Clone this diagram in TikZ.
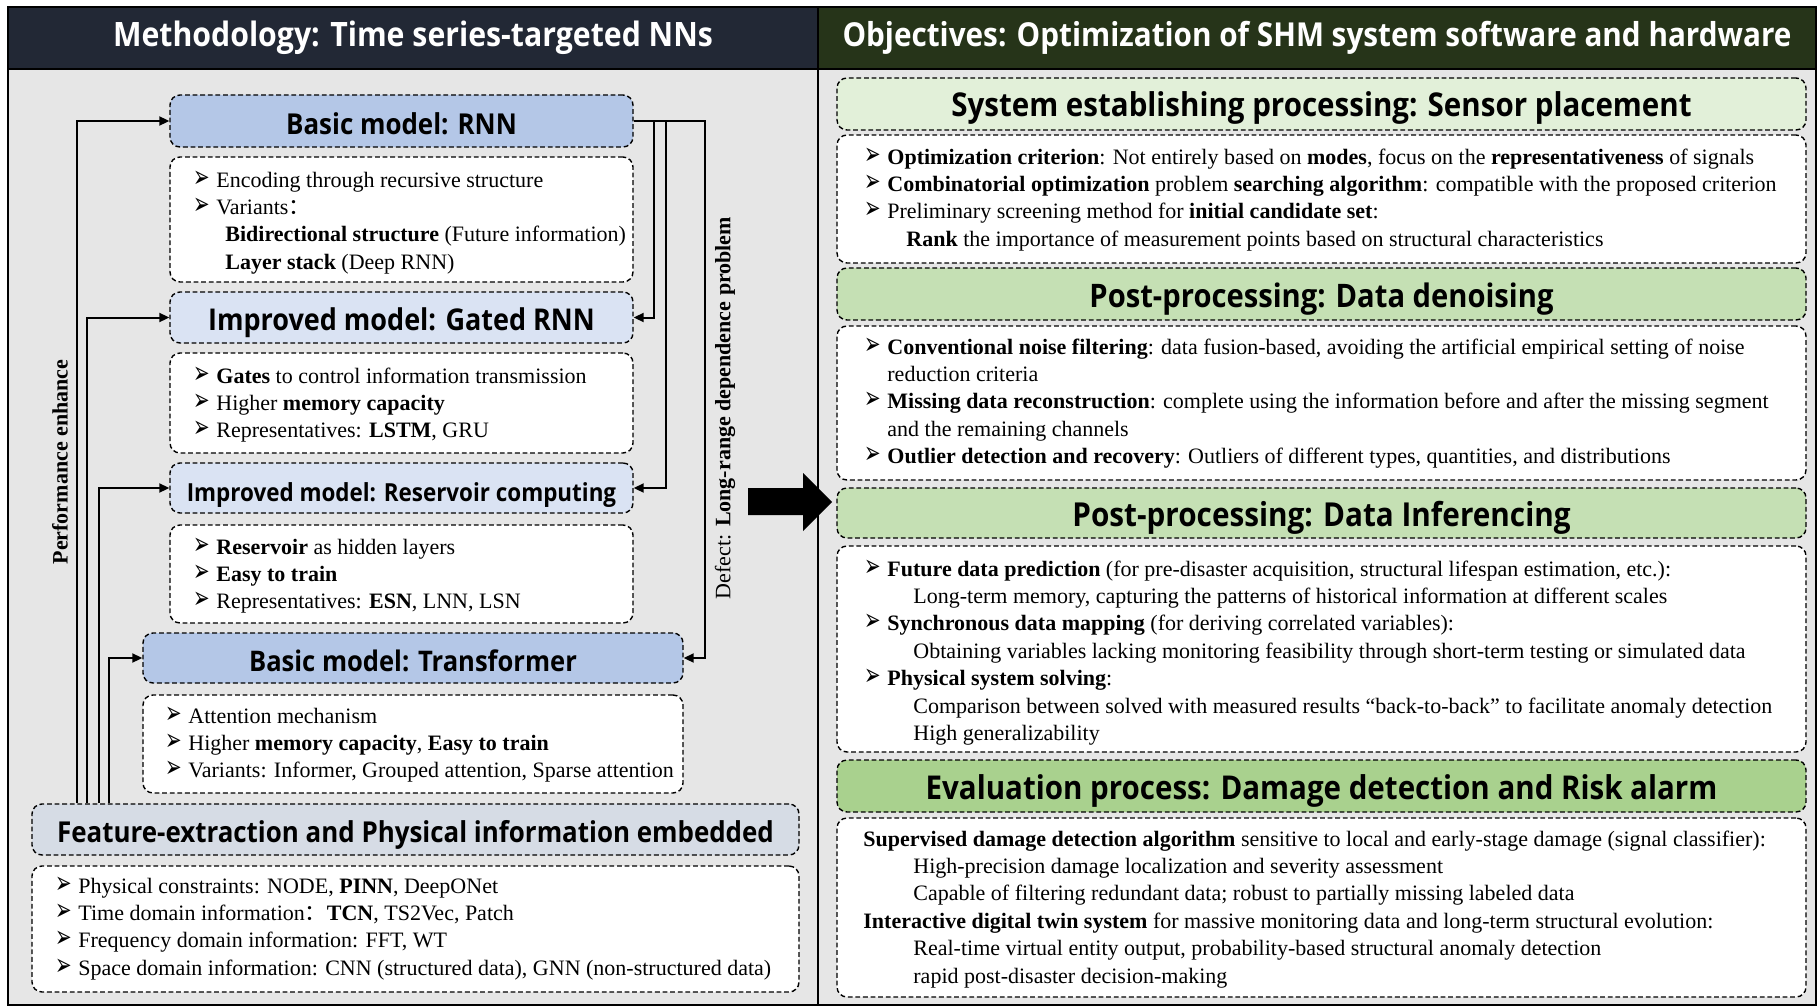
\documentclass[tikz,border=0pt]{standalone}
\usepackage{fontspec}
\usepackage{graphicx}
\setmainfont{Liberation Serif}
\newfontfamily\hfont{Open Sans}[FakeStretch=0.9]
\newfontfamily\dejavu{DejaVu Sans}
\newfontfamily\cjk{Noto Sans CJK SC}
\usetikzlibrary{arrows.meta}

\definecolor{hdrLc}{HTML}{222835}
\definecolor{hdrRc}{HTML}{263419}
\definecolor{panelc}{HTML}{E6E6E6}
\definecolor{blueA}{HTML}{B4C7E7}
\definecolor{blueB}{HTML}{DAE3F3}
\definecolor{blueC}{HTML}{D6DCE5}
\definecolor{greenA}{HTML}{E2F0D9}
\definecolor{greenB}{HTML}{C5E0B4}
\definecolor{greenC}{HTML}{A9D18E}

% box from corner (x1,y1) to (x2,y2), in pixel units
\newcommand\mkbox[7]{%
  \pgfmathsetmacro\bxcx{(#3+#5)/2}%
  \pgfmathsetmacro\bxcy{(#4+#6)/2}%
  \pgfmathsetmacro\bxw{(#5-#3)*0.5}%
  \pgfmathsetmacro\bxh{(#6-#4)*0.5}%
  \node[#1, minimum width=\bxw pt, minimum height=\bxh pt] (#2) at (\bxcx,\bxcy) {#7};}

% bullet and text blocks
\newcommand\itm{\leavevmode\llap{\makebox[11.5pt][l]{\scalebox{0.9}[1.4]{\dejavu\fontsize{11}{11}\selectfont ➢}}}}
\newcommand\tblock[1]{\parbox[t]{470pt}{\raggedright\fontsize{11}{13.7}\selectfont #1}}
\newcommand\fcolon{{\cjk ：}}

\tikzset{
  panel/.style={draw=black, line width=1pt, fill=panelc, inner sep=0pt},
  tsz/.style={font=\hfont\bfseries\fontsize{#1}{#1}\selectfont},
  hdr/.style={draw=black, line width=1pt, inner sep=0pt, text=white},
  dbox/.style={draw=black, line width=0.7pt, dash pattern=on 2.4pt off 1.4pt,
    rounded corners=5pt, inner sep=0pt},
  ttl/.style={dbox, text height=13pt, text depth=0pt},
  cbox/.style={dbox, fill=white},
  txt/.style={anchor=base west, inner sep=0pt},
  conn/.style={draw=black, line width=1pt, -{Triangle[length=5pt,width=4.5pt]}},
  side/.style={rotate=90, inner sep=0pt, font=\fontsize{11}{13}\selectfont},
}

\begin{document}
\begin{tikzpicture}[x=0.5pt,y=-0.5pt]
\useasboundingbox (0,0) rectangle (1819,1006);
\fill[white] (0,0) rectangle (1819,1006);

% panels and headers
\mkbox{panel}{pL}{8}{69}{818}{1005}{}
\mkbox{panel}{pR}{818}{69}{1816}{1005}{}
\mkbox{hdr, fill=hdrLc, tsz=16.8}{hL}{8}{7}{818}{69}{Methodology: Time series-targeted NNs}
\mkbox{hdr, fill=hdrRc, tsz=16.5}{hR}{818}{7}{1816}{69}{Objectives: Optimization of SHM system software and hardware}

% ---------------- methodology column ----------------
\mkbox{ttl, fill=blueA, tsz=14.4}{rnnT}{170}{95}{633}{147}{Basic model: RNN}
\mkbox{cbox}{rnnC}{170}{157}{633}{282}{}
\mkbox{ttl, fill=blueB, tsz=15}{gatT}{170}{292}{633}{343}{Improved model: Gated RNN}
\mkbox{cbox}{gatC}{170}{353}{633}{453}{}
\mkbox{ttl, fill=blueB, tsz=12.45}{resT}{170}{463}{633}{513}{Improved model: Reservoir computing}
\mkbox{cbox}{resC}{170}{525}{633}{623}{}
\mkbox{ttl, fill=blueA, tsz=14.2}{trfT}{143}{633}{683}{683}{Basic model: Transformer}
\mkbox{cbox}{trfC}{143}{695}{683}{793}{}
\mkbox{ttl, fill=blueC, tsz=14.4}{feaT}{32}{804}{799}{855}{Feature-extraction and Physical information embedded}
\mkbox{cbox}{feaC}{32}{866}{799}{992}{}

\node[txt] (rnnX) at (216,187) {\tblock{%
  \itm Encoding through recursive structure\\
  \itm Variants\fcolon\\
  \hspace*{4.5pt}\textbf{Bidirectional structure} (Future information)\\
  \hspace*{4.5pt}\textbf{Layer stack} (Deep RNN)}};
\node[txt] (gatX) at (216,383) {\tblock{%
  \itm \textbf{Gates} to control information transmission\\
  \itm Higher \textbf{memory capacity}\\
  \itm Representatives: \textbf{LSTM}, GRU}};
\node[txt] (resX) at (216,554) {\tblock{%
  \itm \textbf{Reservoir} as hidden layers\\
  \itm \textbf{Easy to train}\\
  \itm Representatives: \textbf{ESN}, LNN, LSN}};
\node[txt] (trfX) at (188,723) {\tblock{%
  \itm Attention mechanism\\
  \itm Higher \textbf{memory capacity}, \textbf{Easy to train}\\
  \itm Variants: Informer, Grouped attention, Sparse attention}};
\node[txt] (feaX) at (78,893) {\tblock{%
  \itm Physical constraints: NODE, \textbf{PINN}, DeepONet\\
  \itm Time domain information\fcolon\textbf{TCN}, TS2Vec, Patch\\
  \itm Frequency domain information: FFT, WT\\
  \itm Space domain information: CNN (structured data), GNN (non-structured data)}};

% connectors: feature embedding feeds every model
\coordinate (lx1) at (77,0);
\coordinate (lx2) at (87,0);
\coordinate (lx3) at (99,0);
\coordinate (lx4) at (109,0);
\draw[conn] (feaT.north -| lx1) |- (rnnT.west);
\draw[conn] (feaT.north -| lx2) |- (gatT.west);
\draw[conn] (feaT.north -| lx3) |- (resT.west);
\draw[conn] (feaT.north -| lx4) |- (trfT.west);

% connectors: RNN defect leads to the improved models
\coordinate (rx1) at (654,0);
\coordinate (rx2) at (666,0);
\coordinate (rx3) at (705,0);
\draw[conn] (rnnT.east) -- (rnnT.east -| rx3) |- (trfT.east);
\draw[conn] (rnnT.east -| rx1) |- (gatT.east);
\draw[conn] (rnnT.east -| rx2) |- (resT.east);

\node[side] (perf) at (60,462) {\textbf{Performance enhance}};
\node[side] (defect) at (725,408) {Defect: \textbf{Long-range dependence problem}};

% block arrow between the columns
\fill[black] (748,488) -- (803,488) -- (803,473) -- (832,502) -- (803,531) -- (803,515) -- (748,515) -- cycle;

% ---------------- objectives column ----------------
\mkbox{ttl, fill=greenA, tsz=16.4}{s1T}{837}{78}{1806}{130}{System establishing processing: Sensor placement}
\mkbox{cbox}{s1C}{837}{135}{1806}{263}{}
\mkbox{ttl, fill=greenB, tsz=16.2}{s2T}{837}{268}{1806}{320}{Post-processing: Data denoising}
\mkbox{cbox}{s2C}{837}{326}{1806}{480}{}
\mkbox{ttl, fill=greenB, tsz=16.5}{s3T}{837}{488}{1806}{538}{Post-processing: Data Inferencing}
\mkbox{cbox}{s3C}{837}{546}{1806}{752}{}
\mkbox{ttl, fill=greenC, tsz=16.4}{s4T}{837}{760}{1806}{812}{Evaluation process: Damage detection and Risk alarm}
\mkbox{cbox}{s4C}{837}{818}{1806}{997}{}

\node[txt] (s1X) at (887,164) {\tblock{%
  \itm \textbf{Optimization criterion}: Not entirely based on \textbf{modes}, focus on the \textbf{representativeness} of signals\\
  \itm \textbf{Combinatorial optimization} problem \textbf{searching algorithm}: compatible with the proposed criterion\\
  \itm Preliminary screening method for \textbf{initial candidate set}:\\
  \hspace*{9.5pt}\textbf{Rank} the importance of measurement points based on structural characteristics}};
\node[txt] (s2X) at (887,354) {\tblock{%
  \itm \textbf{Conventional noise filtering}: data fusion-based, avoiding the artificial empirical setting of noise\\
  reduction criteria\\
  \itm \textbf{Missing data reconstruction}: complete using the information before and after the missing segment\\
  and the remaining channels\\
  \itm \textbf{Outlier detection and recovery}: Outliers of different types, quantities, and distributions}};
\node[txt] (s3X) at (887,576) {\tblock{%
  \itm \textbf{Future data prediction} (for pre-disaster acquisition, structural lifespan estimation, etc.):\\
  \hspace*{13pt}Long-term memory, capturing the patterns of historical information at different scales\\
  \itm \textbf{Synchronous data mapping} (for deriving correlated variables):\\
  \hspace*{13pt}Obtaining variables lacking monitoring feasibility through short-term testing or simulated data\\
  \itm \textbf{Physical system solving}:\\
  \hspace*{13pt}Comparison between solved with measured results “back-to-back” to facilitate anomaly detection\\
  \hspace*{13pt}High generalizability}};
\node[txt] (s4X) at (863,846) {\tblock{%
  \textbf{Supervised damage detection algorithm} sensitive to local and early-stage damage (signal classifier):\\
  \hspace*{25pt}High-precision damage localization and severity assessment\\
  \hspace*{25pt}Capable of filtering redundant data; robust to partially missing labeled data\\
  \textbf{Interactive digital twin system} for massive monitoring data and long-term structural evolution:\\
  \hspace*{25pt}Real-time virtual entity output, probability-based structural anomaly detection\\
  \hspace*{25pt}rapid post-disaster decision-making}};
\end{tikzpicture}
\end{document}
